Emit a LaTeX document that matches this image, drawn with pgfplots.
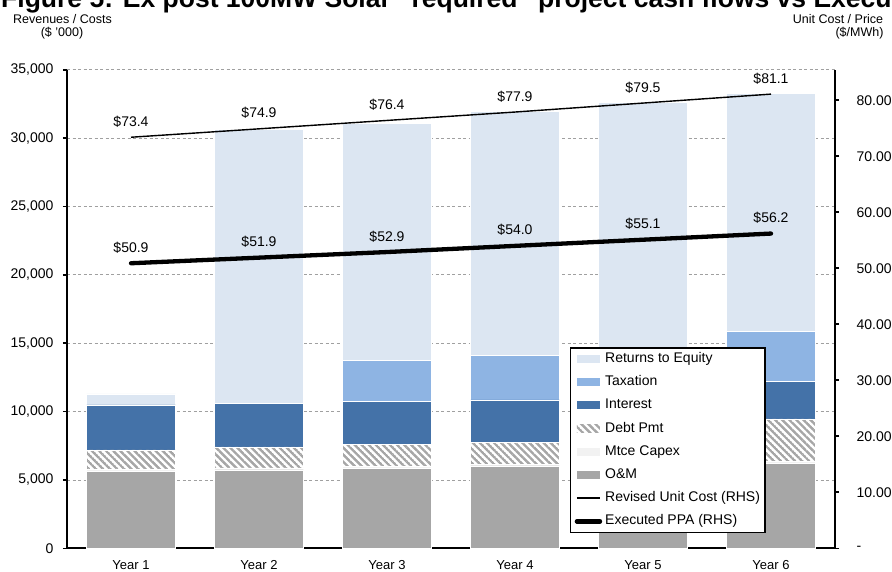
\documentclass[border=0pt]{standalone}
\usepackage{fontspec}
\setmainfont{Liberation Sans}
\usepackage{pgfplots}
\usepackage{pgfplotstable}
\pgfplotsset{compat=1.18}
\usetikzlibrary{patterns.meta}

\definecolor{roe}{HTML}{DCE6F2}
\definecolor{tax}{HTML}{8EB4E3}
\definecolor{intr}{HTML}{4472A8}
\definecolor{hatchgray}{HTML}{A6A6A6}
\definecolor{mtce}{HTML}{F2F2F2}
\definecolor{om}{HTML}{A6A6A6}
\definecolor{gridgray}{HTML}{A0A0A0}

% diagonal hatch for Debt Pmt
\tikzdeclarepattern{
  name=hatch,
  parameters={
    \pgfkeysvalueof{/pgf/pattern keys/size},
    \pgfkeysvalueof{/pgf/pattern keys/angle},
    \pgfkeysvalueof{/pgf/pattern keys/line width},
  },
  bounding box={
    (0,-0.5*\pgfkeysvalueof{/pgf/pattern keys/line width}) and
    (\pgfkeysvalueof{/pgf/pattern keys/size},
     0.5*\pgfkeysvalueof{/pgf/pattern keys/line width})},
  tile size={(\pgfkeysvalueof{/pgf/pattern keys/size},
              \pgfkeysvalueof{/pgf/pattern keys/size})},
  tile transformation={rotate=\pgfkeysvalueof{/pgf/pattern keys/angle}},
  defaults={
    size/.initial=5pt,
    angle/.initial=45,
    line width/.initial=.4pt,
  },
  code={
    \draw[line width=\pgfkeysvalueof{/pgf/pattern keys/line width}]
      (0,0) -- (\pgfkeysvalueof{/pgf/pattern keys/size},0);
  },
}

% revenues / costs ($ '000)
\pgfplotstableread{
yr om   mtce debt int  tax  roe
0  5600 180  1410 3290 0    820
1  5730 150  1540 3190 0    20050
2  5850 150  1620 3100 3050 17310
3  6020 120  1620 3090 3240 17850
4  6120 120  1650 3100 3400 18200
5  6220 120  3120 2720 3660 17430
}\costs

\newcommand{\tickfont}{\fontsize{14}{16}\selectfont}

\pgfplotsset{
  /pgf/number format/assume math mode=true,
  barleg/.style={legend image code/.code={\path[##1,draw=none] (0pt,-4pt) rectangle (23pt,4pt);}},
  lineleg/.style={legend image code/.code={\draw[##1] (0pt,0pt) -- (23pt,0pt);}},
}

\begin{document}
\begin{tikzpicture}

\begin{axis}[
  at={(67pt,22.7pt)}, anchor=south west,
  scale only axis, width=768pt, height=478.6pt,
  ybar stacked, bar width=89pt,
  xmin=-0.5, xmax=5.5,
  ymin=0, ymax=35000,
  axis x line*=bottom, axis y line*=left,
  x axis line style={line width=2pt},
  y axis line style={line width=1.6pt},
  xtick={0,...,5},
  xticklabels={Year 1,Year 2,Year 3,Year 4,Year 5,Year 6},
  xtick style={draw=none},
  xticklabel style={font=\fontsize{13}{15}\selectfont, yshift=-5pt},
  ytick={0,5000,...,35000},
  scaled y ticks=false,
  yticklabel style={font=\tickfont, /pgf/number format/1000 sep={,}, xshift=-6pt},
  ytick style={black, line width=1.6pt},
  tick align=outside, major tick length=4pt,
  ymajorgrids, grid style={gridgray, dashed, line width=0.8pt, dash pattern=on 3pt off 2.5pt},
  reverse legend,
  legend cell align=left,
  legend style={at={(0.655,0.42)}, anchor=north west,
    draw=black, line width=1.3pt, fill=white,
    inner xsep=4pt, inner ysep=3.5pt,
    font=\tickfont, row sep=8.2pt, column sep=2pt,
    nodes={inner sep=1pt, text height=10pt, text depth=3pt}},
]
\addlegendimage{black, line width=4.5pt, line cap=round, fill=none, lineleg}
\addlegendentry{Executed PPA (RHS)}
\addlegendimage{black, line width=1.4pt, fill=none, lineleg}
\addlegendentry{Revised Unit Cost (RHS)}

\addplot[fill=om, draw=white, line width=0.5pt, barleg] table[x=yr, y=om] {\costs};
\addlegendentry{O\&M}
\addplot[fill=mtce, draw=white, line width=0.5pt, barleg] table[x=yr, y=mtce] {\costs};
\addlegendentry{Mtce Capex}
\addplot[pattern={hatch[size=5pt, angle=-45, line width=2.4pt]}, pattern color=hatchgray,
  draw=white, line width=0.5pt, barleg] table[x=yr, y=debt] {\costs};
\addlegendentry{Debt Pmt}
\addplot[fill=intr, draw=white, line width=0.5pt, barleg] table[x=yr, y=int] {\costs};
\addlegendentry{Interest}
\addplot[fill=tax, draw=white, line width=0.5pt, barleg] table[x=yr, y=tax] {\costs};
\addlegendentry{Taxation}
\addplot[fill=roe, draw=white, line width=0.5pt, barleg] table[x=yr, y=roe] {\costs};
\addlegendentry{Returns to Equity}
\end{axis}

\begin{axis}[
  at={(67pt,22.7pt)}, anchor=south west,
  scale only axis, width=768pt, height=478.6pt,
  xmin=-0.5, xmax=5.5,
  ymin=0, ymax=85.46,
  axis x line=none, axis y line*=right,
  y axis line style={line width=1.6pt},
  ytick={0,10,...,80},
  yticklabels={-,10.00,20.00,30.00,40.00,50.00,60.00,70.00,80.00},
  yticklabel style={font=\tickfont, anchor=west, xshift=14pt},
  ytick style={black, line width=1.6pt},
  tick align=outside, major tick length=4pt,
  clip=false,
  nodes near coords={\$\pgfmathprintnumber[fixed,fixed zerofill,precision=1]{\pgfplotspointmeta}},
  every node near coord/.append style={font=\tickfont, anchor=center, yshift=15.7pt, black},
]
% Revised Unit Cost (RHS)
\addplot[black, line width=1.4pt, point meta=y] coordinates {
  (0,73.4) (1,74.9) (2,76.4) (3,77.9) (4,79.5) (5,81.1)
};
% Executed PPA (RHS)
\addplot[black, line width=4.3pt, line cap=round, point meta=y] coordinates {
  (0,50.9) (1,51.9) (2,52.9) (3,54.0) (4,55.1) (5,56.2)
};
\end{axis}

% title, cut off by the top edge as in the source
\node[anchor=base west, font=\fontsize{26.5}{30}\selectfont\bfseries, inner sep=0pt]
  at (1pt,563pt) {Figure 5: Ex post 100MW Solar “required” project cash flows vs Executed PPA};
\node[font=\fontsize{12.5}{14}\selectfont, inner sep=0pt] at (62.5pt,552pt) {Revenues / Costs};
\node[font=\fontsize{12.5}{14}\selectfont, inner sep=0pt] at (62pt,537.5pt) {(\$ '000)};
\node[font=\fontsize{12.5}{14}\selectfont, inner sep=0pt] at (838pt,552pt) {Unit Cost / Price};
\node[font=\fontsize{12.5}{14}\selectfont, inner sep=0pt] at (859.5pt,537.5pt) {(\$/MWh)};

\pgfresetboundingbox
\path (0,0) rectangle (892pt,571pt);
\end{tikzpicture}
\end{document}
